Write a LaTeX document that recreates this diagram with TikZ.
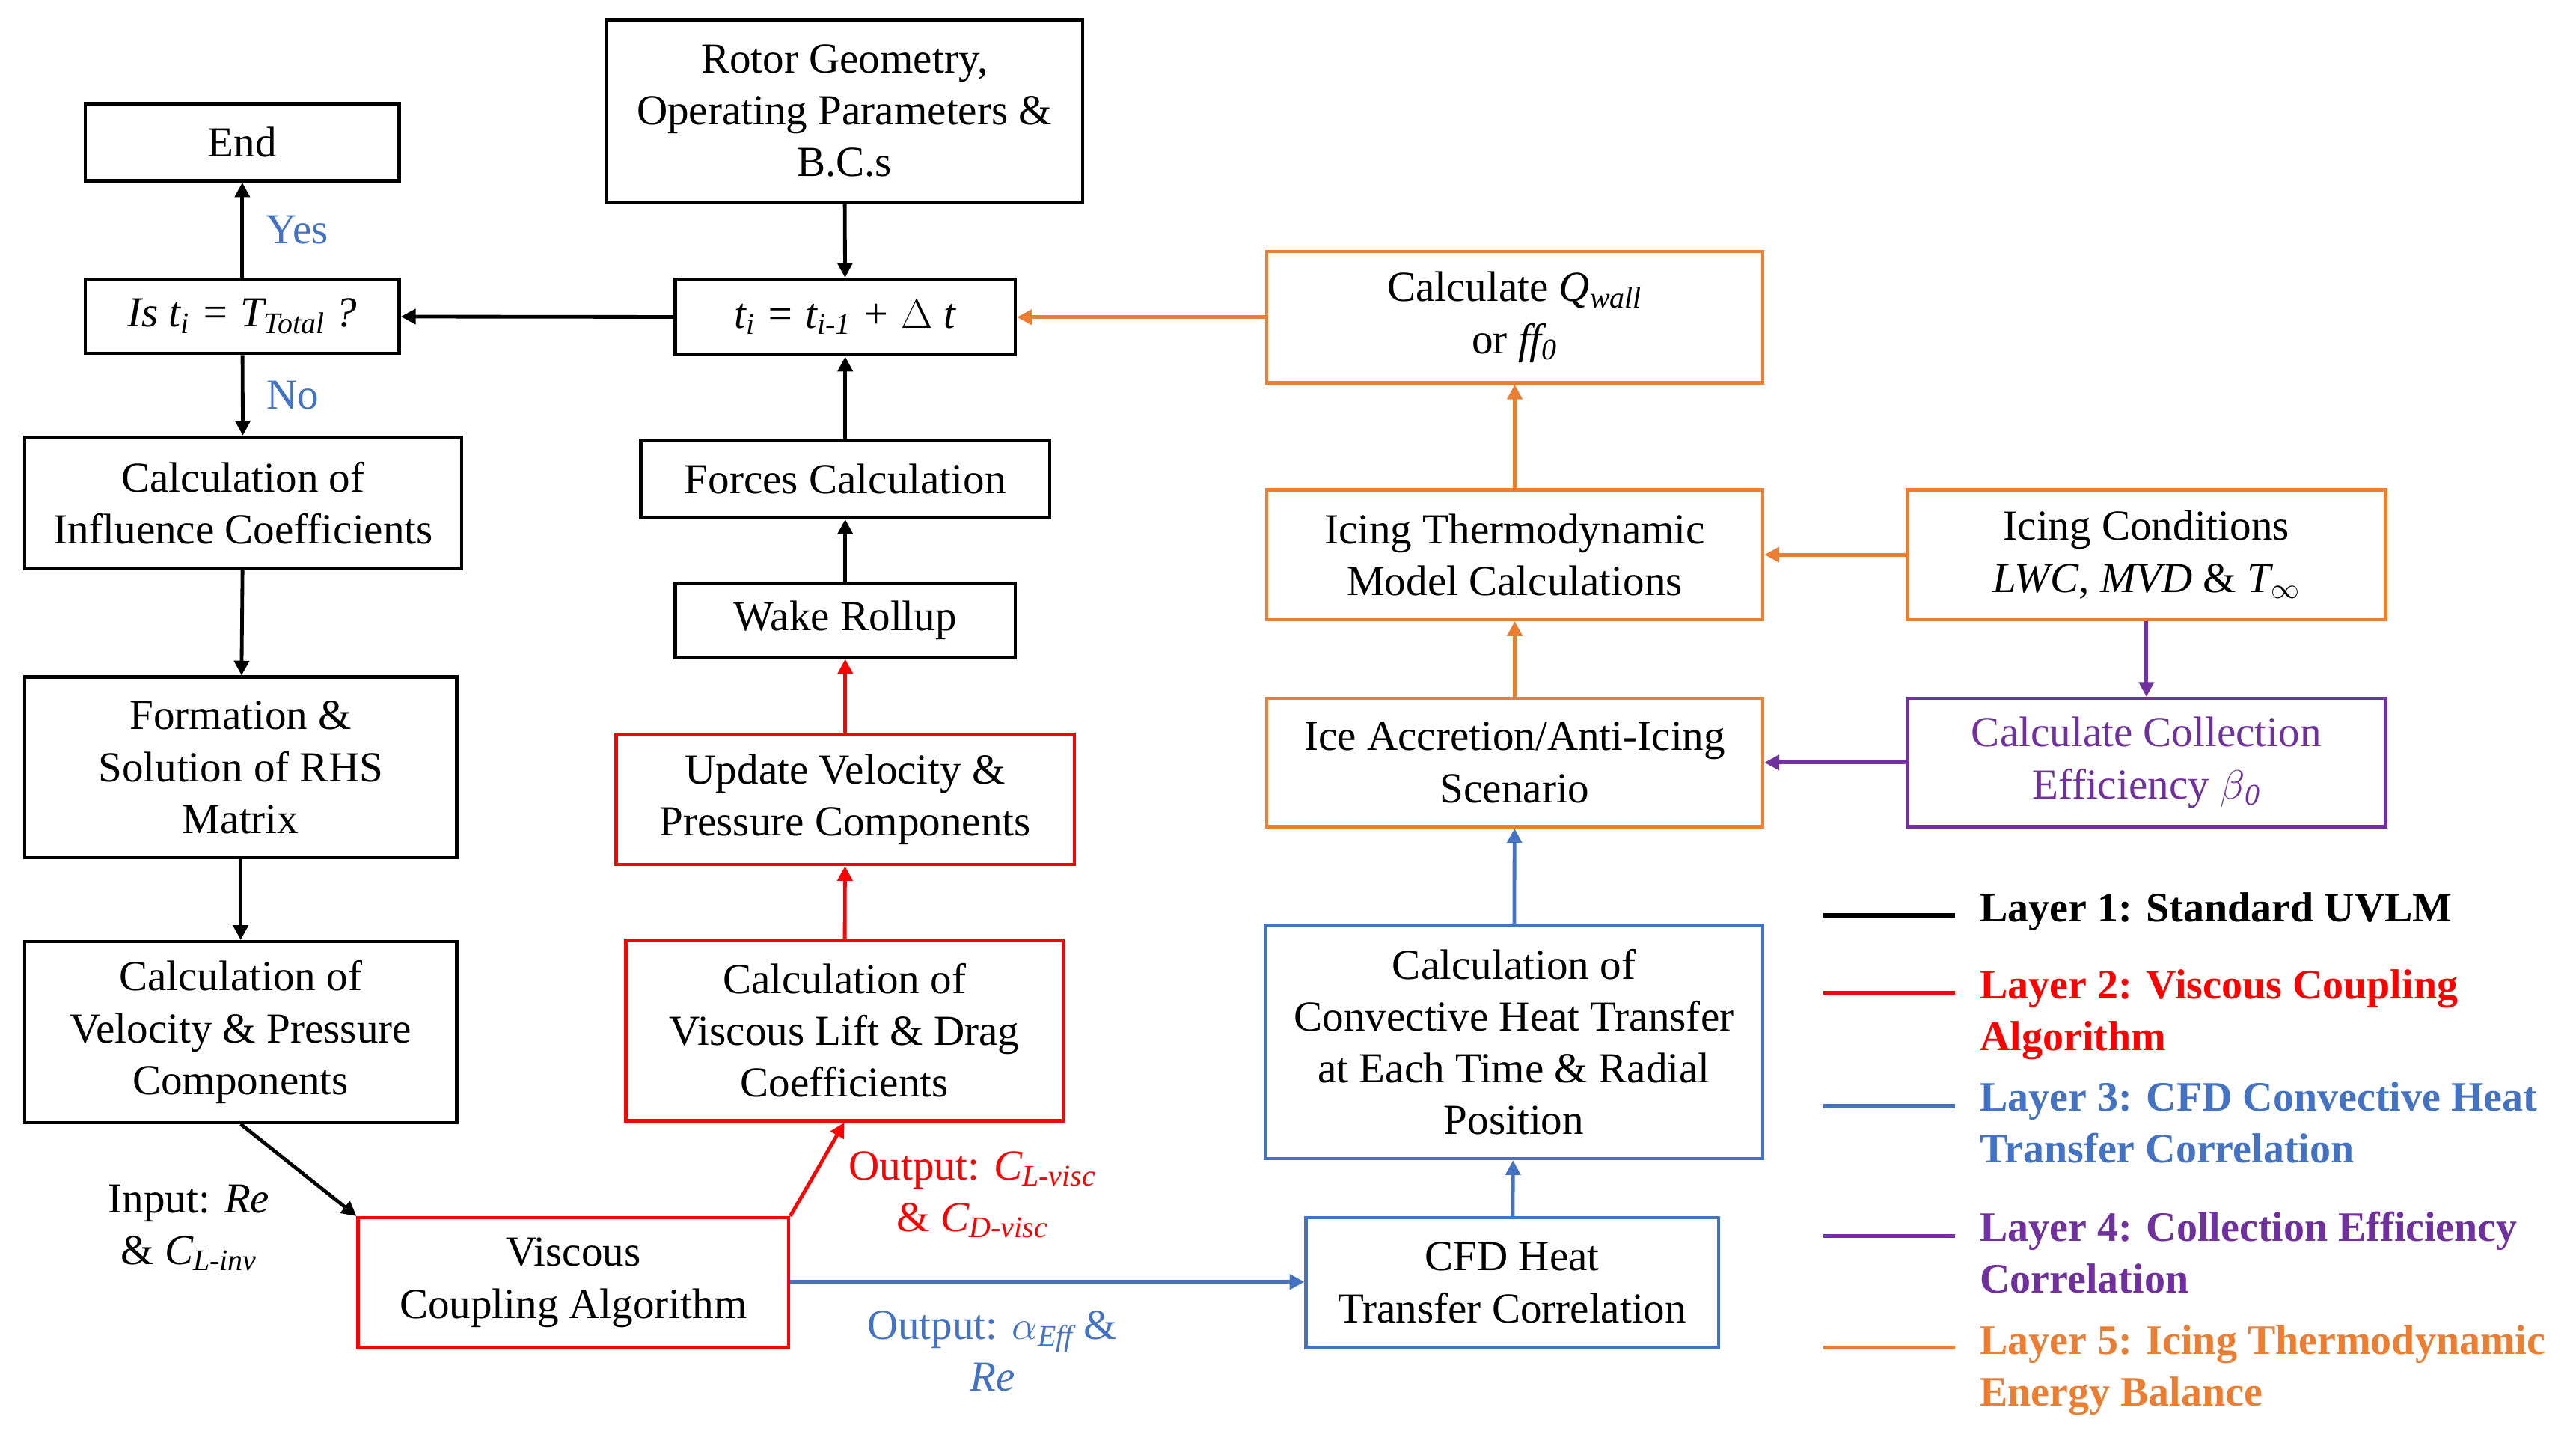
\documentclass[tikz,border=0pt]{standalone}
\usepackage{fontspec}
\setmainfont{Liberation Serif}
\usetikzlibrary{arrows.meta}
\definecolor{cr}{HTML}{FF0000}
\definecolor{cb}{HTML}{4472C4}
\definecolor{co}{HTML}{ED7D31}
\definecolor{cp}{HTML}{7030A0}
\begin{document}
\begin{tikzpicture}[x=1pt,y=-1pt,
 every node/.style={font=\fontsize{26}{31.5}\selectfont, align=center},
 bx/.style={draw, line width=2pt, inner sep=0pt},
 ar/.style={line width=2.2pt, -{Triangle[length=9pt,width=9pt]}},
 lg/.style={line width=2.5pt}]
\useasboundingbox (0,0) rectangle (1568,878);
\newcommand\B[7][black]{\node[bx,draw=#1,minimum width=#4-#2,minimum height=#5-#3] (#6) at ({(#2+#4)/2},{(#3+#5)/2}) {#7};}
\B{52}{63}{243}{110}{end}{End}
\B{52}{170}{243}{215}{is}{\textit{Is t\textsubscript{i} = T\textsubscript{Total} ?}}
\B{15}{266}{281}{346}{inf}{Calculation of\\Influence Coefficients}
\B{15}{412}{278}{522}{form}{Formation \&\\Solution of RHS\\Matrix}
\B{15}{573}{278}{683}{vel}{Calculation of\\Velocity \& Pressure\\Components}
\B[cr]{218}{741}{480}{820}{vca}{Viscous\\Coupling Algorithm}
\B{369}{12}{659}{123}{rotor}{Rotor Geometry,\\Operating Parameters \&\\B.C.s}
\B{411}{170}{618}{216}{ti}{\textit{t\textsubscript{i} = t\textsubscript{i-1} + $\Delta$ t}}
\B{390}{268}{639}{315}{forces}{Forces Calculation}
\B{411}{355}{618}{400}{wake}{Wake Rollup}
\B[cr]{375}{447}{654}{526}{upd}{Update Velocity \&\\Pressure Components}
\B[cr]{381}{572}{647}{682}{visc}{Calculation of\\Viscous Lift \& Drag\\Coefficients}
\B[co]{771}{153}{1073}{233}{qw}{Calculate \textit{Q\textsubscript{wall}}\\or \textit{ff\textsubscript{0}}}
\B[co]{771}{298}{1073}{377}{itm}{Icing Thermodynamic\\Model Calculations}
\B[co]{1161}{298}{1452}{377}{icc}{Icing Conditions\\\textit{LWC}, \textit{MVD} \& \textit{T\textsubscript{$\infty$}}}
\B[co]{771}{425}{1073}{503}{ice}{Ice Accretion/Anti-Icing\\Scenario}
\B[cp]{1161}{425}{1452}{503}{ce}{\textcolor{cp}{Calculate Collection}\\\textcolor{cp}{Efficiency \textit{$\beta$\textsubscript{0}}}}
\B[cb]{770}{563}{1073}{705}{conv}{Calculation of\\Convective Heat Transfer\\at Each Time \& Radial\\Position}
\B[cb]{795}{741}{1046}{820}{cfd}{CFD Heat\\Transfer Correlation}
% black arrows
\draw[ar] (is) -- (end) node[midway,right=10pt,text=cb]{Yes};
\draw[ar] (is) -- (inf) node[midway,right=10pt,text=cb]{No};
\draw[ar] (inf) -- (form);
\draw[ar] (form) -- (vel);
\draw[ar] (vel.south) -- (vca.north west);
\draw[ar] (rotor) -- (ti);
\draw[ar] (ti) -- (is);
\draw[ar] (forces) -- (ti);
\draw[ar] (wake) -- (forces);
\draw[ar,cr] (upd) -- (wake);
\draw[ar,cr] (visc) -- (upd);
\draw[ar,cr] (vca.north east) -- (visc.south);
\draw[ar,cb] (vca.east|-0,780) -- (cfd.west|-0,780);
\draw[ar,cb] (cfd) -- (conv);
\draw[ar,cb] (conv) -- (ice);
\draw[ar,co] (ice) -- (itm);
\draw[ar,co] (itm) -- (qw);
\draw[ar,co] (qw) -- (ti);
\draw[ar,co] (icc) -- (itm);
\draw[ar,cp] (icc) -- (ce);
\draw[ar,cp] (ce) -- (ice);
\node (lin) at (115,747) {Input: \textit{Re}\\\& \textit{C\textsubscript{L-inv}}};
\node[text=cr] (lout) at (592,727) {Output: \textit{C\textsubscript{L-visc}}\\\& \textit{C\textsubscript{D-visc}}};
\node[text=cb] (lout2) at (604,822) {Output: \textit{$\alpha$\textsubscript{Eff}} \&\\\textit{Re}};
% legend
\begin{scope}[every node/.style={font=\bfseries\fontsize{25.5}{31.5}\selectfont, anchor=north west, align=left, inner sep=0pt}]
\coordinate (a1) at (1110,557); \coordinate (b1) at (1190,557);
\draw[lg] (a1) -- (b1); \node (t1) at (1205,543) {Layer 1: Standard UVLM};
\coordinate (a2) at (1110,604); \coordinate (b2) at (1190,604);
\draw[lg,cr] (a2) -- (b2); \node[text=cr] (t2) at (1205,590) {Layer 2: Viscous Coupling\\Algorithm};
\coordinate (a3) at (1110,673); \coordinate (b3) at (1190,673);
\draw[lg,cb] (a3) -- (b3); \node[text=cb] (t3) at (1205,658) {Layer 3: CFD Convective Heat\\Transfer Correlation};
\coordinate (a4) at (1110,752); \coordinate (b4) at (1190,752);
\draw[lg,cp] (a4) -- (b4); \node[text=cp] (t4) at (1205,737) {Layer 4: Collection Efficiency\\Correlation};
\coordinate (a5) at (1110,820); \coordinate (b5) at (1190,820);
\draw[lg,co] (a5) -- (b5); \node[text=co] (t5) at (1205,806) {Layer 5: Icing Thermodynamic\\Energy Balance};
\end{scope}
\end{tikzpicture}
\end{document}
